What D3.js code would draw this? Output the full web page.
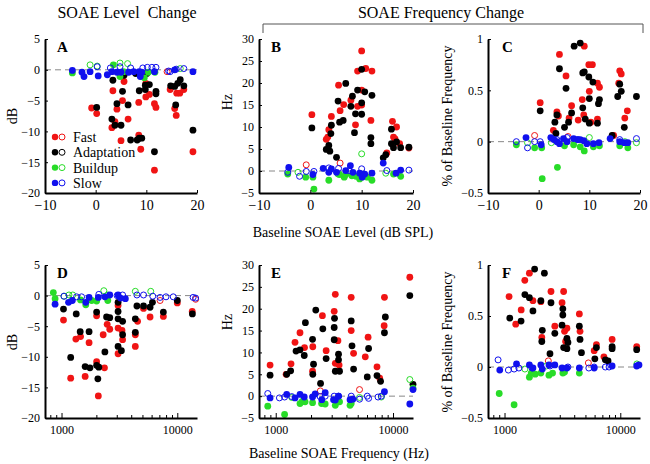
<!DOCTYPE html>
<html>
<head>
<meta charset="utf-8">
<script src="https://cdn.jsdelivr.net/npm/d3@7"></script>
<style>
body { margin: 0; background: #fff; }
svg, svg text { font-family: "Liberation Serif", "Times New Roman", Times, serif; fill: #000; }
.axis path, .axis line { stroke: #000; }
.axis path { stroke-width: 2; }
</style>
</head>
<body>
<div id="chart-container"></div>
<script>
// values, [x, y] pairs
// top row: x = baseline SOAE level (dB SPL)
const aFast = [[-0.8,-6.2],[0.2,-7.1],[3.4,-3.4],[3.2,-9.4],[3.8,-8.4],[4.2,-6.4],[5.0,-11.5],[5.3,-5.0],[5.6,-1.9],[6.4,-8.0],[8.5,-5.3],[8.5,-10.6],[8.9,-12.9],[9.0,-1.0],[9.9,-4.4],[9.9,-2.2],[10.6,-4.0],[11.6,-5.5],[11.9,-6.1],[11.6,-16.3],[14.7,-3.2],[15.6,-6.3],[15.9,-7.4],[16.0,-3.8],[16.6,-3.8],[17.4,-3.2],[19.2,-13.3]];
const aFastOpen = [[14.1,-0.3]];
const aAdapt = [[0.2,-6.1],[3.4,-1.7],[3.2,-8.0],[3.8,-9.0],[4.2,-5.5],[5.0,-9.0],[5.3,-3.5],[5.6,-0.9],[6.4,-5.7],[6.9,-11.4],[7.9,-0.6],[8.2,-11.4],[8.6,-3.4],[8.6,-11.1],[9.1,-11.1],[9.8,-3.2],[9.8,-2.5],[10.1,-0.6],[10.6,-2.4],[11.6,-13.3],[11.9,-3.5],[11.9,-3.9],[14.8,-2.6],[15.6,-2.7],[15.8,-5.7],[16.2,-2.2],[16.7,-1.6],[17.4,-2.6],[19.2,-9.8]];
const aBuild = [[-4.6,-0.5],[3.5,0.8],[4.8,-1.1],[5.5,-0.3],[9.6,-1.3],[10.4,-0.4],[11.7,-0.4]];
const aBuildOpen = [[-1.1,0.8],[0.3,0.6],[4.8,1.1],[6.3,1.0],[16.7,0.2]];
const aSlow = [[-4.6,-0.1],[-2.7,-0.4],[-2.3,-1.1],[-1.1,-0.3],[0.5,-1.0],[2.3,-0.8],[3.2,-0.3],[4.2,-0.4],[5.0,-0.4],[6.5,-0.4],[7.5,-0.3],[8.6,-0.3],[8.8,-1.1],[9.1,-0.4],[11.6,-0.3],[15.6,0],[19.2,-0.3]];
const aSlowOpen = [[0.3,0.5],[2.9,0.3],[4.8,0.5],[6.9,0.3],[9.3,0.3],[10.2,0.4],[11.1,0.4],[11.9,0.4],[14.4,-0.2],[14.7,-0.3],[15.9,0.1],[17.4,0.2]];

const bFast = [[0.3,12.8],[4.1,12.4],[3.1,7.2],[3.4,7.7],[3.6,9.4],[5.5,19.5],[5.8,13.7],[6.5,15.1],[7.9,16.1],[8.8,10.5],[9.2,14.7],[9.2,22.7],[10.0,27.3],[10.0,18.4],[10.0,15.0],[10.8,23.3],[12.0,22.7],[11.8,11.5],[14.9,4.1],[16.0,11.3],[16.2,7.7],[16.5,7.3],[16.8,10.0],[17.4,6.2],[19.2,5.2]];
const bFastOpen = [[-0.8,1.4],[5.8,1.8]];
const bAdapt = [[0.3,9.8],[3.1,4.9],[3.6,5.8],[3.8,4.5],[4.0,8.5],[4.1,10.4],[5.1,3.1],[5.4,15.9],[5.7,11.1],[6.4,11.5],[6.9,19.9],[7.9,14.7],[8.2,17.0],[8.6,8.7],[8.8,13.0],[9.2,18.4],[10.0,23.1],[10.0,15.5],[10.0,12.9],[10.6,18.0],[12.0,17.2],[11.8,7.6],[11.8,6.2],[14.2,3.0],[14.7,3.7],[15.8,9.5],[15.8,6.2],[16.2,5.3],[16.8,6.6],[17.6,5.3],[19.2,5.4]];
const bBuild = [[-4.4,-0.7],[-0.9,-1.4],[0.5,-1.4],[0.7,-4.1],[3.6,-2.1],[5.7,-0.8],[6.6,-1.4],[6.9,-0.8],[8.1,-1.1],[8.9,-1.2],[9.6,-1.8],[11.1,-1.4],[12.0,-2.1],[16.2,-0.7],[17.6,-1.2]];
const bBuildOpen = [[-2.4,-0.3],[10.0,3.9],[5.4,-0.7],[14.7,-0.5]];
const bSlow = [[-4.2,0.8],[0.5,-0.8],[2.5,0.6],[3.6,-0.3],[4.1,0.5],[5.1,-0.3],[6.9,0.1],[7.8,1.2],[8.3,-0.3],[9.6,-0.5],[10.1,-1.4],[10.6,-0.7],[12.0,-0.5],[14.2,1.8],[16.7,-0.5],[17.6,0.2]];
const bSlowOpen = [[-4.4,-0.3],[-2.1,-1.2],[-0.8,-0.1],[0.7,-0.1],[3.6,0.7],[5.5,0.6],[7.5,0.1],[10.0,0.5],[14.9,0.1],[19.2,0.2]];

const cFast = [[0.3,0.38],[4.1,0.85],[3.6,0.29],[3.9,0.25],[2.9,0.11],[5.4,0.64],[6.0,0.23],[6.5,0.35],[7.8,0.21],[8.6,0.41],[9.0,0.93],[8.9,0.26],[9.9,0.75],[10.6,0.75],[10.0,0.49],[10.3,0.19],[11.6,0.57],[12.0,0.53],[11.6,0.22],[14.8,0.06],[16.0,0.69],[16.3,0.66],[15.8,0.57],[17.0,0.23],[17.5,0.30]];
const cFastOpen = [[-0.8,0.06],[5.8,0.05]];
const cAdapt = [[0.3,0.30],[4.1,0.71],[3.2,0.19],[3.6,0.26],[3.4,0.08],[5.1,0.14],[5.4,0.52],[5.9,0.19],[6.5,0.28],[7.0,0.93],[8.2,0.96],[8.7,0.67],[8.7,0.33],[9.0,0.68],[9.2,0.22],[9.9,0.63],[10.0,0.42],[10.0,0.18],[10.7,0.58],[11.8,0.37],[12.0,0.41],[11.6,0.18],[14.5,0.06],[16.0,0.56],[15.6,0.44],[16.3,0.49],[16.9,0.14],[19.3,0.44]];
const cBuild = [[-4.4,-0.03],[-0.8,-0.06],[0.6,-0.06],[0.7,-0.36],[3.7,-0.25],[5.1,-0.04],[6.9,-0.03],[8.2,-0.05],[9.0,-0.09],[10.8,-0.05],[12.0,-0.04],[16.0,-0.04],[17.6,-0.06]];
const cBuildOpen = [[-2.2,-0.01],[2.5,-0.01],[10.0,0.04],[17.0,0],[19.3,-0.01]];
const cSlow = [[-2.5,0.04],[0.5,-0.03],[2.4,0.04],[3.0,0.02],[3.6,0.0],[4.1,-0.02],[4.9,0.03],[5.6,0.0],[6.9,0.03],[7.7,0.02],[8.2,0.02],[8.9,0.01],[9.5,-0.02],[10.8,-0.02],[11.9,-0.01],[14.1,0.03],[16.0,0.0],[16.9,-0.01],[17.6,-0.01]];
const cSlowOpen = [[-4.4,0],[-2.2,-0.06],[-0.8,0],[0.3,0],[3.6,0.02],[5.6,0.04],[7.7,0.02],[16.0,0.02],[19.3,0.03]];

// bottom row: x = baseline SOAE frequency (Hz)
const dFast = [[1040,-4.0],[1200,-13.5],[1330,-7.1],[1460,-6.7],[1600,-13.2],[1730,-7.7],[2010,-10.8],[2010,-3.3],[2080,-16.4],[2290,-6.4],[2350,-11.8],[2480,-4.7],[2610,-5.5],[3080,-5.3],[3080,-9.5],[3080,-1.6],[3330,-5.7],[3370,-7.2],[4340,-6.4],[4340,-8.3],[4540,-4.2],[5110,-2.1],[5820,-3.5],[7580,-3.4],[10000,-1.2],[13460,-2.6]];
const dFastOpen = [[7100,-0.8],[14400,-0.6]];
const dAdapt = [[1040,-2.2],[1200,-10.1],[1340,-3.0],[1450,-5.9],[1600,-11.6],[1730,-5.9],[1760,-11.8],[2010,-2.7],[2010,-11.4],[2060,-13.6],[2100,-11.7],[2370,-9.2],[2450,-3.5],[2610,-3.6],[3080,-1.1],[3080,-2.6],[3080,-3.8],[3080,-8.3],[3290,-9.0],[3370,-4.2],[3370,-6.4],[4340,-3.8],[4340,-6.0],[4480,-1.7],[5110,-1.7],[5820,-1.9],[6100,-1.1],[7580,-2.7],[10000,-0.8],[13500,-3.0]];
const dBuild = [[850,0.5],[880,-0.5],[1460,-0.7],[1620,-1.5],[1820,-0.8],[2010,-0.9],[2510,-0.8]];
const dBuildOpen = [[1050,-0.1],[1160,0.1],[1250,0.1],[2320,0.8],[2510,0.1],[4340,0.7],[5900,0.7]];
const dSlow = [[880,-1.4],[1150,-1.1],[1240,-0.8],[1620,-1.1],[1730,-0.3],[2080,-0.3],[2370,-0.2],[2610,0.1],[3080,0.1],[3230,-0.4],[3560,-0.5]];
const dSlowOpen = [[1050,-0.1],[1350,-0.2],[1490,-0.2],[2100,0.2],[3020,0],[3370,0.1],[4480,0.1],[5110,0.1],[6140,-0.1],[7100,-0.3],[7990,-0.2],[9230,-0.2],[13700,-0.3],[14400,-0.4]];

const eFast = [[895,7.1],[1226,5.0],[1350,7.4],[1460,12.3],[1610,14.5],[1760,11.1],[2060,5.7],[2070,11.3],[2500,18.4],[2690,10.4],[3150,19.4],[3220,23.3],[3220,7.5],[3390,12.7],[3470,7.1],[4400,22.6],[4400,15.0],[4610,9.8],[5800,9.0],[6130,13.5],[7300,6.7],[7700,4.1],[8450,22.6],[8400,16.1],[13900,27.2]];
const eFastOpen = [[2400,1.2],[5180,1.5]];
const eAdapt = [[895,4.8],[1240,5.0],[1340,5.8],[1490,10.3],[1610,10.6],[1750,9.3],[1790,16.8],[2060,13.0],[2070,5.0],[2100,7.3],[2195,19.7],[2410,2.9],[2520,15.4],[2690,8.6],[3150,15.7],[3150,12.9],[3170,17.8],[3220,5.7],[3430,9.6],[3430,8.3],[3500,5.7],[4400,17.2],[4470,11.5],[4610,6.2],[6030,4.4],[6190,10.9],[7300,4.7],[7830,3.4],[8450,14.5],[8600,18.1],[13900,23.0],[14800,2.7]];
const eBuild = [[855,-2.3],[1190,-4.2],[1610,-1.7],[1680,-1.2],[1780,-1.3],[2060,-1.5],[2460,-1.7],[2640,-1.8],[3220,-2.1],[3500,-1.3],[4300,-2.1],[4400,-1.7],[14800,1.8]];
const eBuildOpen = [[1370,-0.3],[5180,-0.3],[7950,-0.2],[13900,3.8]];
const eSlow = [[895,-0.4],[1240,0.4],[1460,-0.4],[1610,0.4],[1750,-0.2],[2060,-0.2],[2170,0.5],[2470,-0.8],[2640,0.8],[3110,-0.8],[3220,-0.9],[3430,0],[4300,-0.8],[4540,-0.7],[8450,1.0],[13900,-1.8],[14800,1.5]];
const eSlowOpen = [[855,0.6],[1075,-0.4],[1190,-0.2],[1370,-0.1],[2390,-0.1],[2640,0],[3150,0],[3430,0],[4400,0],[5180,-0.7],[6030,0],[6190,-0.5],[7450,-0.2],[7950,0]];

const fFast = [[1095,0.69],[1250,0.42],[1393,0.56],[1497,0.85],[1640,0.92],[1760,0.65],[2060,0.64],[2100,0.29],[2520,0.74],[2720,0.40],[3140,0.63],[3240,0.74],[3300,0.35],[3460,0.38],[3370,0.25],[4430,0.52],[4490,0.35],[5950,0.16],[6220,0.22],[7220,0.10],[8500,0.27],[13860,0.20]];
const fFastOpen = [[2390,0.06],[5300,0.04]];
const fAdapt = [[1110,0.48],[1390,0.45],[1500,0.71],[1640,0.68],[1760,0.55],[1820,0.96],[2060,0.65],[2120,0.36],[2100,0.25],[2210,0.92],[2470,0.13],[2520,0.63],[2720,0.33],[3140,0.41],[3190,0.51],[3190,0.57],[3240,0.19],[3460,0.18],[3460,0.28],[3530,0.24],[4430,0.40],[4490,0.27],[4620,0.14],[6030,0.08],[6220,0.19],[7430,0.07],[7840,0.06],[8500,0.20],[8500,0.18],[13860,0.17]];
const fBuild = [[900,-0.26],[1210,-0.37],[1640,-0.10],[1700,-0.06],[1840,-0.07],[2060,-0.06],[2420,-0.08],[2600,-0.06],[3190,-0.06],[3300,-0.05],[4430,-0.06]];
const fBuildOpen = [[1500,-0.02],[2300,0.01],[13900,0.03]];
const fSlow = [[910,-0.03],[1270,0.03],[1640,0.02],[1760,-0.01],[2060,0.02],[2120,-0.02],[2420,0.02],[2720,0.02],[3140,-0.01],[3460,-0.01],[4430,-0.01],[5950,-0.01],[8500,0.01],[13860,0.01],[14500,0.02]];
const fSlowOpen = [[880,0.07],[1080,-0.03],[1210,-0.02],[1330,-0.01],[1730,-0.01],[2470,0.01],[3530,0],[5350,-0.01],[5950,0],[7430,0],[8000,0]];

const legendNames = ["Fast", "Adaptation", "Buildup", "Slow"];
const levelTicks = [-10, 0, 10, 20];
const freqTicks = [800, 900, 1000, 2000, 3000, 4000, 5000, 6000, 7000, 8000, 9000, 10000];
const dbTicks = [5, 0, -5, -10, -15, -20];
const hzTicks = [30, 25, 20, 15, 10, 5, 0, -5];
const pctTicks = [1, 0.5, 0, -0.5];

const colFast = "#f01414";
const colAdapt = "#000000";
const colBuild = "#28dc28";
const colSlow = "#1010ee";
const legendColors = [colFast, colAdapt, colBuild, colSlow];

const serif = '"Liberation Serif", "Times New Roman", Times, serif';
const svgWidth = 650;
const svgHeight = 464;

const svg = d3.select("#chart-container")
    .append("svg")
    .attr("width", svgWidth)
    .attr("height", svgHeight)
    .attr("font-family", serif);

function makeSeries(fast, fastOpen, adapt, build, buildOpen, slow, slowOpen) {
    return [
        { data: fastOpen, color: colFast, open: true },
        { data: fast, color: colFast, open: false },
        { data: adapt, color: colAdapt, open: false },
        { data: buildOpen, color: colBuild, open: true },
        { data: build, color: colBuild, open: false },
        { data: slowOpen, color: colSlow, open: true },
        { data: slow, color: colSlow, open: false }
    ];
}

const topRow = { top: 39, bottom: 193 };
const botRow = { top: 265, bottom: 418 };
const cols = [{ left: 45, right: 197 }, { left: 259, right: 413 }, { left: 488, right: 640 }];

const panels = [
    { letter: "A", row: topRow, col: cols[0], log: false, yDomain: [-20, 5], yTicks: dbTicks, series: makeSeries(aFast, aFastOpen, aAdapt, aBuild, aBuildOpen, aSlow, aSlowOpen) },
    { letter: "B", row: topRow, col: cols[1], log: false, yDomain: [-5, 30], yTicks: hzTicks, series: makeSeries(bFast, bFastOpen, bAdapt, bBuild, bBuildOpen, bSlow, bSlowOpen) },
    { letter: "C", row: topRow, col: cols[2], log: false, yDomain: [-0.5, 1], yTicks: pctTicks, series: makeSeries(cFast, cFastOpen, cAdapt, cBuild, cBuildOpen, cSlow, cSlowOpen) },
    { letter: "D", row: botRow, col: cols[0], log: true, yDomain: [-20, 5], yTicks: dbTicks, series: makeSeries(dFast, dFastOpen, dAdapt, dBuild, dBuildOpen, dSlow, dSlowOpen) },
    { letter: "E", row: botRow, col: cols[1], log: true, yDomain: [-5, 30], yTicks: hzTicks, series: makeSeries(eFast, eFastOpen, eAdapt, eBuild, eBuildOpen, eSlow, eSlowOpen) },
    { letter: "F", row: botRow, col: cols[2], log: true, yDomain: [-0.5, 1], yTicks: pctTicks, series: makeSeries(fFast, fFastOpen, fAdapt, fBuild, fBuildOpen, fSlow, fSlowOpen) }
];

function drawPanel(p) {
    const x = p.log
        ? d3.scaleLog().domain([720, 14800]).range([p.col.left, p.col.right])
        : d3.scaleLinear().domain([-10, 20]).range([p.col.left, p.col.right]);
    const y = d3.scaleLinear().domain(p.yDomain).range([p.row.bottom, p.row.top]);

    // dashed zero line
    svg.append("line")
        .attr("x1", p.col.left)
        .attr("x2", p.col.right)
        .attr("y1", y(0))
        .attr("y2", y(0))
        .attr("stroke", "#888")
        .attr("stroke-width", 1)
        .attr("stroke-dasharray", "6,4");

    p.series.forEach(function (s) {
        svg.append("g")
            .selectAll("circle")
            .data(s.data)
            .enter()
            .append("circle")
            .attr("cx", d => x(d[0]))
            .attr("cy", d => y(d[1]))
            .attr("r", s.open ? 3 : 3.4)
            .attr("fill", s.open ? "none" : s.color)
            .attr("stroke", s.open ? s.color : "none")
            .attr("stroke-width", 1);
    });

    svg.append("g")
        .attr("class", "axis")
        .attr("transform", `translate(${p.col.left},0)`)
        .call(d3.axisLeft(y).tickValues(p.yTicks).tickSize(-3).tickSizeOuter(0).tickPadding(5)
            .tickFormat(d => d3.format("")(d)))
        .attr("font-family", serif)
        .attr("font-size", 12);

    const xAxis = p.log
        ? d3.axisBottom(x).tickValues(freqTicks).tickFormat(d => (d === 1000 || d === 10000) ? d : "")
        : d3.axisBottom(x).tickValues(levelTicks).tickFormat(d => d3.format("")(d));

    const gx = svg.append("g")
        .attr("class", "axis")
        .attr("transform", `translate(0,${p.row.bottom})`)
        .call(xAxis.tickSize(-3).tickSizeOuter(0).tickPadding(7))
        .attr("font-family", serif)
        .attr("font-size", p.log ? 12 : 14);
    if (p.log) {
        gx.selectAll(".tick line").attr("y2", d => (d === 1000 || d === 10000) ? -5 : -3);
    }

    svg.append("text")
        .text(p.letter)
        .attr("x", p.col.left + (p.letter === "F" || p.letter === "C" ? 14 : 12))
        .attr("y", p.row.top + 13)
        .style("font-weight", "bold")
        .style("font-size", "15px");
}

panels.forEach(drawPanel);

// legend inside panel A
legendNames.forEach(function (name, i) {
    const ly = 137 + i * 15.3;
    svg.append("circle").attr("cx", 55).attr("cy", ly).attr("r", 3.2).attr("fill", legendColors[i]);
    svg.append("circle").attr("cx", 62).attr("cy", ly).attr("r", 3).attr("fill", "none")
        .attr("stroke", legendColors[i]).attr("stroke-width", 1);
    svg.append("text").text(name).attr("x", 73).attr("y", ly + 5).style("font-size", "14px");
});

// axis titles
function yTitle(label, xPos, yPos) {
    svg.append("text")
        .text(label)
        .attr("transform", `translate(${xPos},${yPos}) rotate(-90)`)
        .attr("text-anchor", "middle")
        .style("font-size", "14px");
}
yTitle("dB", 17, 116);
yTitle("dB", 17, 342);
yTitle("Hz", 232, 102);
yTitle("Hz", 232, 322);
yTitle("% of Baseline Frequency", 452, 116);
yTitle("% of Baseline Frequency", 452, 342);

svg.append("text")
    .text("Baseline SOAE Level (dB SPL)")
    .attr("x", 343)
    .attr("y", 237)
    .attr("text-anchor", "middle")
    .style("font-size", "14px");

svg.append("text")
    .text("Baseline SOAE Frequency (Hz)")
    .attr("x", 339)
    .attr("y", 458)
    .attr("text-anchor", "middle")
    .style("font-size", "14px");

// column titles
svg.append("text")
    .text("SOAE Level  Change")
    .attr("x", 127)
    .attr("y", 18)
    .attr("text-anchor", "middle")
    .style("white-space", "pre")
    .style("font-size", "16px");

svg.append("text")
    .text("SOAE Frequency Change")
    .attr("x", 441)
    .attr("y", 18)
    .attr("text-anchor", "middle")
    .style("font-size", "16px");

svg.append("path")
    .attr("d", "M263,33 V24 H643 V33")
    .attr("fill", "none")
    .attr("stroke", "#555")
    .attr("stroke-width", 1);
</script>
</body>
</html>
